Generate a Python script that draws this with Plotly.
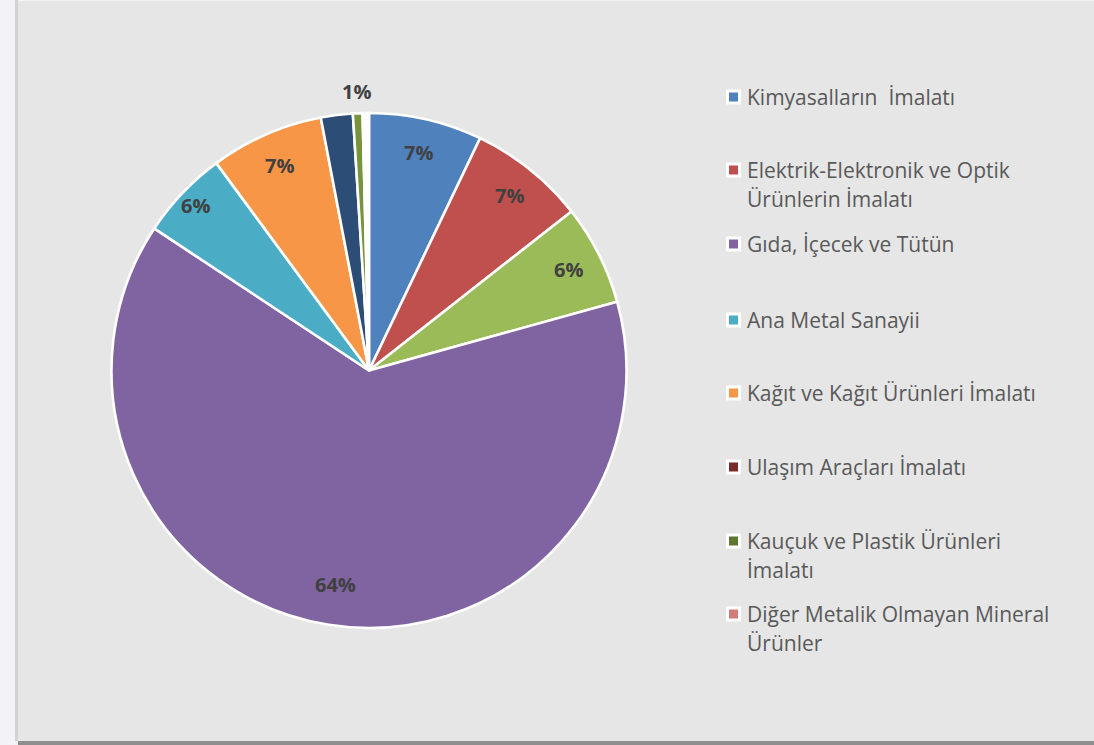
import math
import plotly.graph_objects as go

# ---- data -------------------------------------------------------------
# pie slices, clockwise from 12 o'clock (shares in %)
slice_names = [
    "Kimyasalların  İmalatı",
    "Elektrik-Elektronik ve Optik Ürünlerin İmalatı",
    "Diğer (yeşil)",
    "Gıda, İçecek ve Tütün",
    "Ana Metal Sanayii",
    "Kağıt ve Kağıt Ürünleri İmalatı",
    "Ulaşım Araçları İmalatı",
    "Kauçuk ve Plastik Ürünleri İmalatı",
    "Diğer Metalik Olmayan Mineral Ürünler",
]
slice_values = [7.1, 7.3, 6.3, 63.6, 5.6, 7.1, 2.0, 0.6, 0.4]

# legend entries (each entry = list of text lines)
legend_lines = [
    ["Kimyasalların  İmalatı"],
    ["Elektrik-Elektronik ve Optik", "Ürünlerin İmalatı"],
    ["Gıda, İçecek ve Tütün"],
    ["Ana Metal Sanayii"],
    ["Kağıt ve Kağıt Ürünleri İmalatı"],
    ["Ulaşım Araçları İmalatı"],
    ["Kauçuk ve Plastik Ürünleri", "İmalatı"],
    ["Diğer Metalik Olmayan Mineral", "Ürünler"],
]

# ---- style ------------------------------------------------------------
slice_colors = ["#4F81BD", "#C0504D", "#9BBB59", "#8064A2", "#4BACC6",
                "#F79646", "#2C4D75", "#77933C", "#FFFFFF"]
legend_colors = ["#4F81BD", "#C0504D", "#8064A2", "#4BACC6",
                 "#F79646", "#772C2A", "#5F7530", "#D47B79"]
# radial position of each value label (fraction of radius); None = no label
label_radius = [0.87, 0.87, 0.87, 0.84, 0.93, 0.87, None, 1.085, None]

W, H = 1094, 745
CX, CY, R = 369.0, 370.5, 257.5          # pie centre / radius in px
BG = "#E6E6E6"
TEXT = "#595959"
LABEL = "#404040"
FONT = "Open Sans"


def px(x):
    return x / W


def py(y):
    return 1 - y / H


fig = go.Figure()

fig.add_trace(go.Pie(
    labels=slice_names,
    values=slice_values,
    sort=False,
    direction="clockwise",
    rotation=0,
    textinfo="none",
    hoverinfo="label+percent",
    showlegend=False,
    marker=dict(colors=slice_colors, line=dict(color="#FFFFFF", width=2.6)),
    domain=dict(x=[px(CX - R), px(CX + R)], y=[py(CY + R), py(CY - R)]),
))

annotations = []
shapes = []

# value labels placed at each slice's mid-angle
total = sum(slice_values)
cum = 0.0
for v, rf in zip(slice_values, label_radius):
    mid = (cum + v / 2) / total * 2 * math.pi
    cum += v
    if rf is None:
        continue
    lx = CX + rf * R * math.sin(mid)
    ly = CY - rf * R * math.cos(mid)
    annotations.append(dict(
        x=px(lx), y=py(ly), xref="paper", yref="paper",
        text=f"<b>{v / total:.0%}</b>", showarrow=False,
        xanchor="center", yanchor="middle",
        font=dict(family=FONT, size=20, color=LABEL),
    ))

# legend
row_tops = [97, 170, 244, 320, 393, 467, 541, 614]
line_gap = 29
for top, lines, col in zip(row_tops, legend_lines, legend_colors):
    shapes.append(dict(type="rect", xref="paper", yref="paper",
                       x0=px(726), x1=px(741), y0=py(top - 7.5), y1=py(top + 7.5),
                       fillcolor="#FFFFFF", line=dict(width=0), layer="above"))
    shapes.append(dict(type="rect", xref="paper", yref="paper",
                       x0=px(729), x1=px(738), y0=py(top - 4.5), y1=py(top + 4.5),
                       fillcolor=col, line=dict(width=0), layer="above"))
    for i, ln in enumerate(lines):
        annotations.append(dict(
            x=px(745), y=py(top + i * line_gap), xref="paper", yref="paper",
            text=ln, showarrow=False, xanchor="left", yanchor="middle",
            font=dict(family=FONT, size=21, color=TEXT),
        ))

# chart area background, shadow edge and bottom rule
shapes[:0] = [
    dict(type="rect", xref="paper", yref="paper", x0=px(15), x1=px(18),
         y0=py(741), y1=1, fillcolor="#D2D2D6", line=dict(width=0), layer="below"),
    dict(type="rect", xref="paper", yref="paper", x0=px(18), x1=1,
         y0=py(741), y1=py(1), fillcolor=BG, line=dict(width=0), layer="below"),
    dict(type="rect", xref="paper", yref="paper", x0=px(18), x1=1,
         y0=0, y1=py(741), fillcolor="#8E8E8E", line=dict(width=0), layer="below"),
]

fig.update_layout(
    width=W, height=H,
    margin=dict(l=0, r=0, t=0, b=0),
    paper_bgcolor="#F3F3F7",
    plot_bgcolor=BG,
    shapes=shapes,
    annotations=annotations,
)

fig.write_html("out.html")
